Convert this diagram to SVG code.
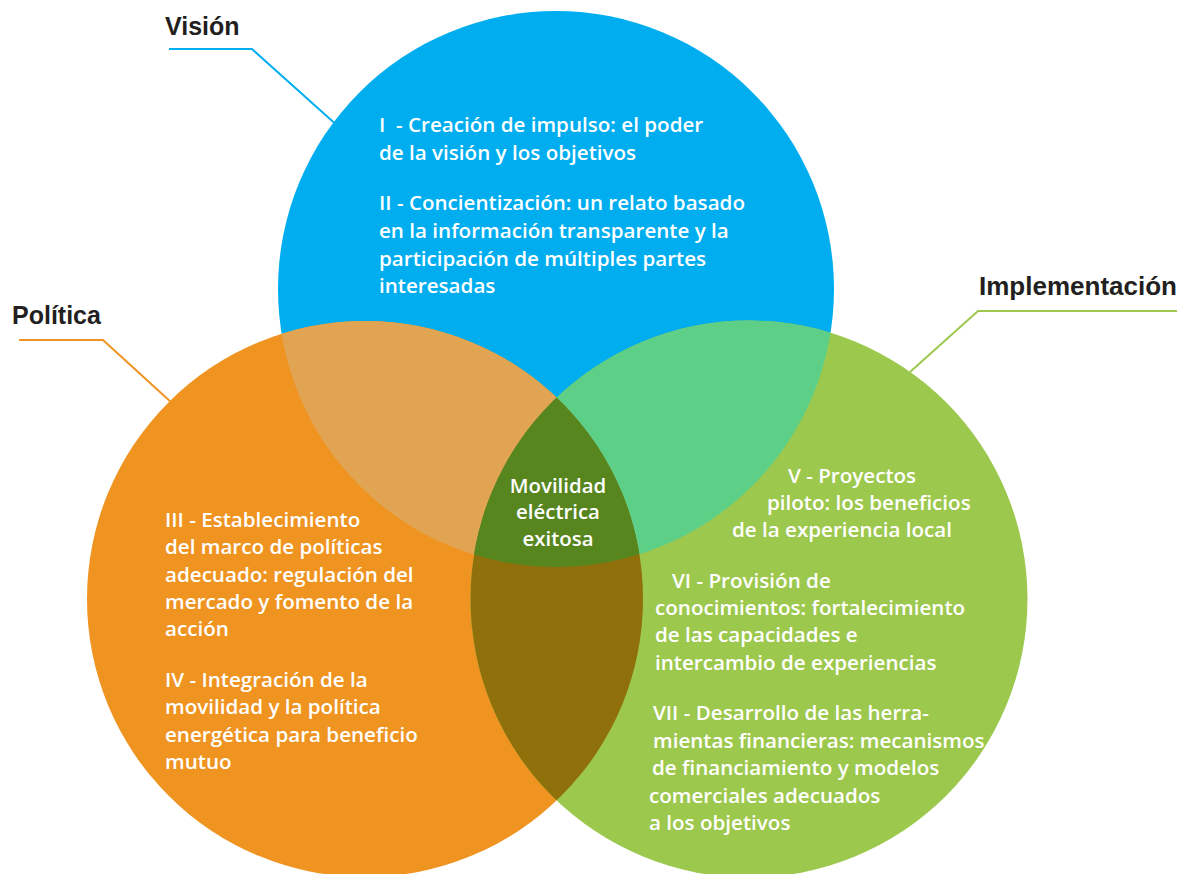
<svg xmlns="http://www.w3.org/2000/svg" width="1189" height="874" viewBox="0 0 1189 874">
<style>
.lbl{font-family:"Liberation Sans",Arial,sans-serif;font-weight:bold;font-size:25px;fill:#231F20}
.body{font-family:"Open Sans","Liberation Sans",sans-serif;font-weight:600;font-size:20.6px;fill:#FFFFFF;white-space:pre}
.ctr{font-family:"Open Sans","Liberation Sans",sans-serif;font-weight:600;font-size:20.4px;fill:#FFFFFF;text-anchor:middle}
.lead{fill:none;stroke-width:2}
</style>
<defs>
<clipPath id="cB"><circle cx="556" cy="289" r="278"/></clipPath>
<clipPath id="cO"><circle cx="365" cy="599" r="278"/></clipPath>
</defs>
<rect width="1189" height="874" fill="#FFFFFF"/>
<g id="circles">
<circle id="c-vision" cx="556" cy="289" r="278" fill="#00AEEF"/>
<circle id="c-politica" cx="365" cy="599" r="278" fill="#EF9421"/>
<circle id="c-impl" cx="749" cy="599" r="278.5" fill="#9DC84E"/>
<g clip-path="url(#cB)"><circle cx="365" cy="599" r="278" fill="#E1A452"/></g>
<g clip-path="url(#cB)"><circle cx="749" cy="599" r="278.5" fill="#5ECF87"/></g>
<g clip-path="url(#cO)"><circle cx="749" cy="599" r="278.5" fill="#8F700A"/></g>
<g clip-path="url(#cO)"><g clip-path="url(#cB)"><circle cx="749" cy="599" r="278.5" fill="#57861F"/></g></g>
</g>
<g id="connectors">
<polyline class="lead" stroke="#00AEEF" points="169,49 252,49 340,128"/>
<polyline class="lead" stroke="#EF9421" points="19,340 103,340 172,403"/>
<polyline class="lead" stroke="#9DC84E" points="1177,311 978,311 910,372"/>
</g>
<g id="vision">
<text class="lbl" x="165" y="35">Visión</text>
<text class="body" x="379" y="132" xml:space="preserve">I  - Creación de impulso: el poder</text>
<text class="body" x="379" y="160">de la visión y los objetivos</text>
<text class="body" x="379" y="210">II - Concientización: un relato basado</text>
<text class="body" x="379" y="238">en la información transparente y la</text>
<text class="body" x="379" y="266">participación de múltiples partes</text>
<text class="body" x="379" y="293">interesadas</text>
</g>
<g id="politica">
<text class="lbl" x="12" y="324">Política</text>
<text class="body" x="165" y="527">III - Establecimiento</text>
<text class="body" x="165" y="554">del marco de políticas</text>
<text class="body" x="165" y="582">adecuado: regulación del</text>
<text class="body" x="165" y="609">mercado y fomento de la</text>
<text class="body" x="165" y="636">acción</text>
<text class="body" x="165" y="687">IV - Integración de la</text>
<text class="body" x="165" y="714">movilidad y la política</text>
<text class="body" x="165" y="742">energética para beneficio</text>
<text class="body" x="165" y="769">mutuo</text>
</g>
<g id="implementacion">
<text class="lbl" x="979" y="295" textLength="198" lengthAdjust="spacingAndGlyphs">Implementación</text>
<text class="body" x="788" y="483">V - Proyectos</text>
<text class="body" x="767" y="510">piloto: los beneficios</text>
<text class="body" x="732" y="537">de la experiencia local</text>
<text class="body" x="672" y="588">VI - Provisión de</text>
<text class="body" x="655" y="615">conocimientos: fortalecimiento</text>
<text class="body" x="655" y="642">de las capacidades e</text>
<text class="body" x="655" y="670">intercambio de experiencias</text>
<text class="body" x="653" y="720">VII - Desarrollo de las herra-</text>
<text class="body" x="653" y="748">mientas financieras: mecanismos</text>
<text class="body" x="652" y="775">de financiamiento y modelos</text>
<text class="body" x="649" y="803">comerciales adecuados</text>
<text class="body" x="649" y="830">a los objetivos</text>
</g>
<g id="centro">
<text class="ctr" x="558" y="493">Movilidad</text>
<text class="ctr" x="558" y="519">eléctrica</text>
<text class="ctr" x="558" y="546">exitosa</text>
</g>
</svg>
